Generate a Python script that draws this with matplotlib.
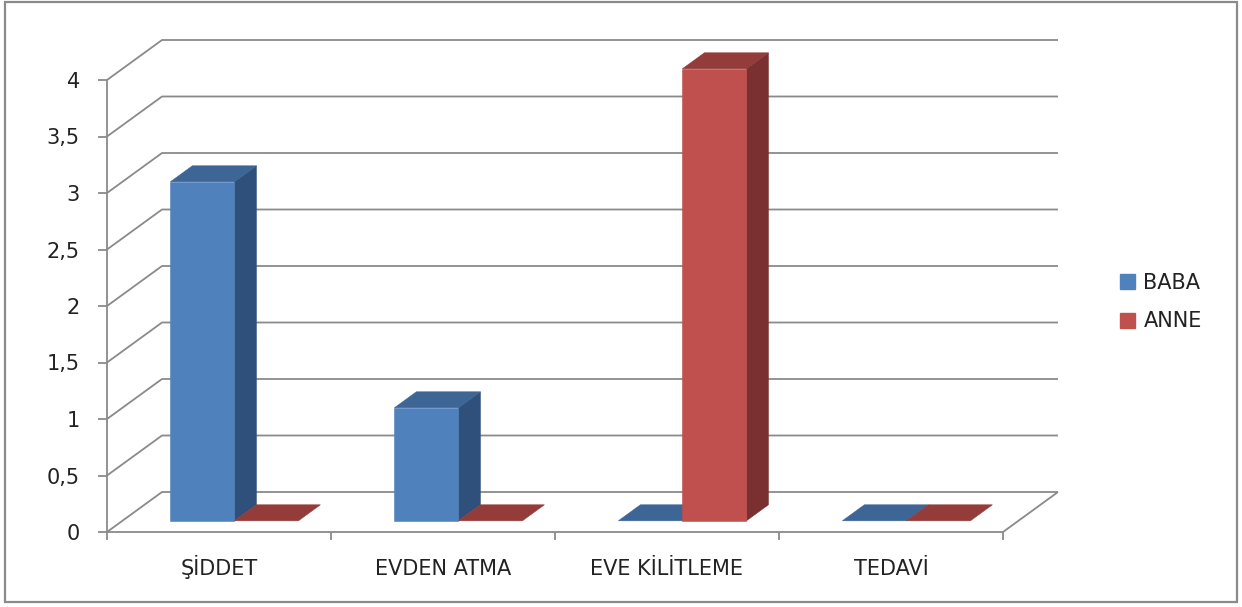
import matplotlib
matplotlib.use("Agg")
import matplotlib.pyplot as plt
from matplotlib.patches import Polygon, Patch, Rectangle

# ---------------- data ----------------
categories = ["ŞİDDET", "EVDEN ATMA", "EVE KİLİTLEME", "TEDAVİ"]
series_names = ["BABA", "ANNE"]
baba = [3, 1, 0, 0]
anne = [0, 0, 4, 0]
y_ticks = [0, 0.5, 1, 1.5, 2, 2.5, 3, 3.5, 4]
y_tick_labels = ["0", "0,5", "1", "1,5", "2", "2,5", "3", "3,5", "4"]

# ---------------- styles ----------------
front_cols = ["#4F81BD", "#C0504D"]
side_cols = ["#30507C", "#7A3030"]
top_cols = ["#3D6596", "#943C39"]
grid_col = "#8A8A8A"
plt.rcParams['font.family'] = ['DejaVu Sans']

W, H = 1242, 607
fig = plt.figure(figsize=(W / 100, H / 100), dpi=100)

# pixel layout of the plot area
X0px, UNITX = 107, 224     # x=0 at px 107, one category = 224 px
Y0px, UNITY = 532, 113     # v=0 at px 532, one unit = 113 px
ax_l, ax_r, ax_t, ax_b = 40, 1100, 15, 595
ax = fig.add_axes([ax_l / W, (H - ax_b) / H, (ax_r - ax_l) / W, (ax_b - ax_t) / H])
ax.set_xlim((ax_l - X0px) / UNITX, (ax_r - X0px) / UNITX)
ax.set_ylim((Y0px - ax_b) / UNITY, (Y0px - ax_t) / UNITY)
ax.patch.set_alpha(0)

DX = 55 / UNITX   # depth offset (full depth) in x data units
DY = 40 / UNITY   # depth offset (full depth) in y data units


def proj(x, v, d):
    return (x + d * DX, v + d * DY)


n = len(categories)
gkw = dict(color=grid_col, lw=1.3, solid_capstyle='butt', zorder=1)
# back wall gridlines + side wall diagonals
for t in y_ticks:
    p0 = proj(0, t, 0)
    p1 = proj(0, t, 1)
    p2 = proj(n, t, 1)
    ax.plot([p0[0], p1[0], p2[0]], [p0[1], p1[1], p2[1]], **gkw)
# floor right edge
p0 = proj(n, 0, 0)
p1 = proj(n, 0, 1)
ax.plot([p0[0], p1[0]], [p0[1], p1[1]], **gkw)

# bars
bw = 0.2857
d0, d1 = 0.28, 0.68
series = [baba, anne]
for i in range(n):
    c = i + 0.5
    for s, vals in enumerate(series):
        x0 = c - bw + s * bw
        x1 = x0 + bw
        v = vals[i]
        if v > 0:
            side = [proj(x1, 0, d0), proj(x1, v, d0), proj(x1, v, d1), proj(x1, 0, d1)]
            ax.add_patch(Polygon(side, closed=True, facecolor=side_cols[s],
                                 edgecolor=side_cols[s], lw=0.4, zorder=3))
        top = [proj(x0, v, d0), proj(x1, v, d0), proj(x1, v, d1), proj(x0, v, d1)]
        ax.add_patch(Polygon(top, closed=True, facecolor=top_cols[s],
                             edgecolor=top_cols[s], lw=0.4, zorder=3))
        if v > 0:
            front = [proj(x0, 0, d0), proj(x1, 0, d0), proj(x1, v, d0), proj(x0, v, d0)]
            ax.add_patch(Polygon(front, closed=True, facecolor=front_cols[s],
                                 edgecolor=front_cols[s], lw=0.4, zorder=3))

# axes spines
for sp in ["top", "right"]:
    ax.spines[sp].set_visible(False)
ax.spines["left"].set_position(("data", 0))
ax.spines["bottom"].set_position(("data", 0))
ax.spines["left"].set_bounds(0, 4)
ax.spines["bottom"].set_bounds(0, n)
for sp in ["left", "bottom"]:
    ax.spines[sp].set_color(grid_col)
    ax.spines[sp].set_linewidth(1.3)
    ax.spines[sp].set_zorder(2)

ax.set_yticks(y_ticks)
ax.set_yticklabels(y_tick_labels)
ax.tick_params(axis="y", direction="out", length=6.5, width=1.3, color=grid_col,
               labelsize=15, pad=13, labelcolor="#222222")
ax.set_xticks(range(n + 1))
ax.set_xticklabels([""] * (n + 1))
ax.set_xticks([i + 0.5 for i in range(n)], minor=True)
ax.set_xticklabels(categories, minor=True)
ax.tick_params(axis="x", which="major", direction="out", length=6, width=1.3, color=grid_col)
ax.tick_params(axis="x", which="minor", length=0, labelsize=15, pad=31, labelcolor="#222222")
for lbl in ax.get_xticklabels(minor=True):
    lbl.set_verticalalignment("baseline")

# legend
handles = [Patch(facecolor=front_cols[k], edgecolor=front_cols[k]) for k in range(2)]
fig.legend(handles, series_names, loc="center left",
           bbox_to_anchor=(1120 / W, 1 - 302 / H), frameon=False, fontsize=15,
           handlelength=0.72, handleheight=0.72, handletextpad=0.4,
           labelspacing=0.9, borderpad=0, borderaxespad=0, labelcolor="#222222")

# outer border
fig.add_artist(Rectangle((5 / W, (H - 602) / H), (1237 - 5) / W, (602 - 2) / H,
                         transform=fig.transFigure, fill=False,
                         edgecolor="#8A8A8A", lw=1.6))

fig.savefig("out.png", dpi=100)
